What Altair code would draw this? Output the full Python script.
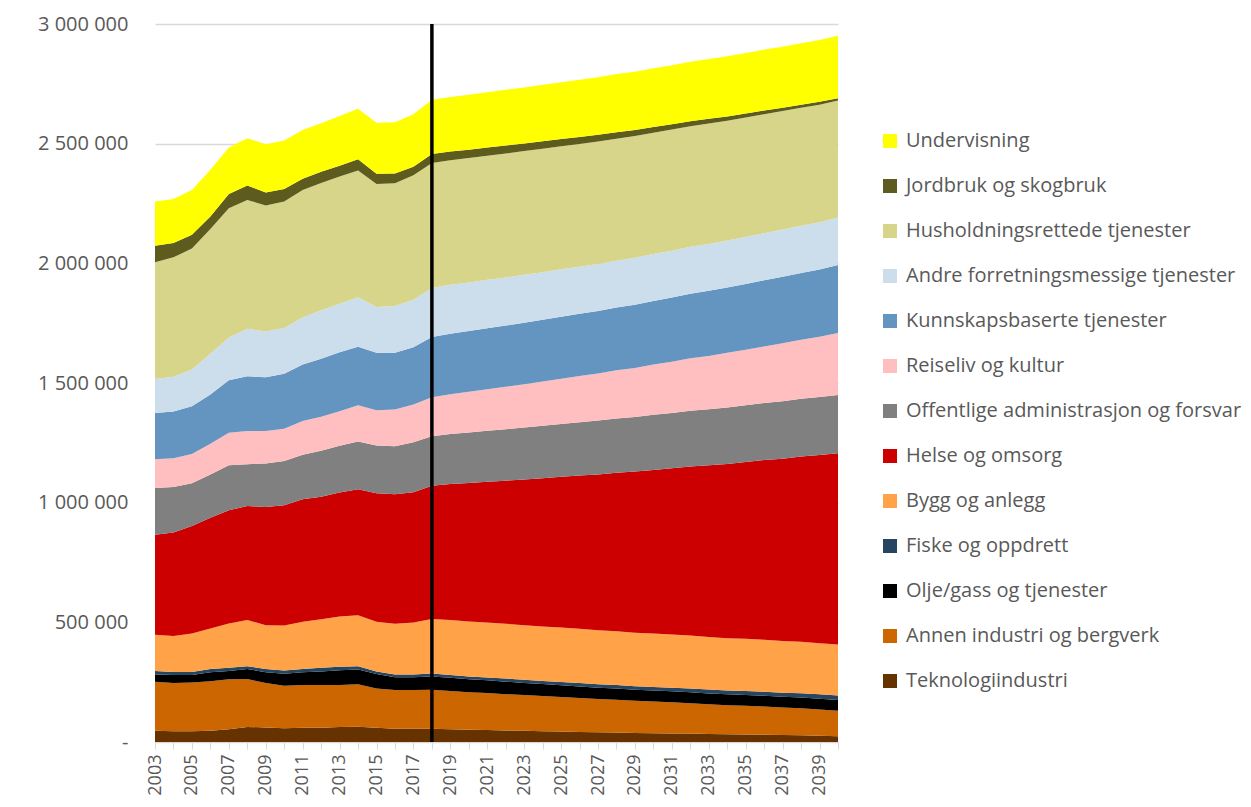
import altair as alt
import pandas as pd

years = list(range(2003, 2041))

# Legend order (top to bottom)
legend_order = [
    "Undervisning",
    "Jordbruk og skogbruk",
    "Husholdningsrettede tjenester",
    "Andre forretningsmessige tjenester",
    "Kunnskapsbaserte tjenester",
    "Reiseliv og kultur",
    "Offentlige administrasjon og forsvar",
    "Helse og omsorg",
    "Bygg og anlegg",
    "Fiske og oppdrett",
    "Olje/gass og tjenester",
    "Annen industri og bergverk",
    "Teknologiindustri",
]
colors = [
    "#FFFF00", "#5E5B1F", "#D7D58A", "#CCDDEB", "#6395C0", "#FFBFC0",
    "#808080", "#CC0000", "#FFA248", "#254561", "#000000", "#CC6600", "#663300",
]

# values in thousands of persons, 2003..2040
teknologi = [47, 45, 45, 47, 53, 63, 61, 57, 60, 60, 63, 64, 60, 55, 55,
             55, 53, 51, 50, 48, 47, 45, 44, 42, 41, 40, 38, 37, 36, 35, 33, 32, 31, 30, 29, 28, 26, 24]
annen_industri = [205, 202, 204, 207, 209, 200, 185, 178, 178, 178, 175, 177, 164, 162, 162,
                  163, 160, 157, 155, 152, 149, 147, 144, 142, 139, 137, 134, 132, 130, 127, 125, 122, 120, 118, 115, 113, 110, 107]
olje_gass = [30, 33, 31, 37, 35, 42, 45, 50, 53, 57, 62, 62, 60, 54, 54,
             56, 55, 54, 53, 52, 51, 50, 49, 48, 47, 47, 46, 46, 46, 46, 45, 45, 45, 45, 45, 45, 45, 45]
fiske = [15, 12, 12, 14, 13, 12, 14, 14, 14, 15, 14, 14, 11, 11, 11,
         12, 12, 12, 12, 13, 13, 13, 14, 14, 14, 14, 15, 15, 15, 16, 16, 16, 17, 17, 17, 18, 18, 18]
bygg = [151, 151, 161, 169, 185, 193, 183, 188, 197, 203, 210, 213, 207, 212, 217,
        228, 230, 230, 229, 229, 228, 228, 227, 227, 226, 225, 224, 223, 222, 221, 220, 219, 218, 217, 216, 215, 214, 213]
helse = [418, 432, 449, 463, 473, 476, 494, 502, 512, 512, 518, 526, 537, 541, 545,
         557, 568, 578, 588, 598, 609, 619, 630, 640, 651, 662, 673, 684, 695, 706, 717, 728, 739, 751, 762, 774, 786, 799]
offentlige = [195, 190, 179, 181, 188, 175, 182, 185, 186, 192, 196, 200, 200, 201, 208,
              207, 209, 211, 213, 215, 217, 219, 221, 223, 225, 227, 228, 230, 231, 233, 234, 236, 237, 238, 240, 241, 242, 244]
reiseliv = [120, 121, 122, 128, 136, 138, 135, 135, 141, 142, 144, 151, 147, 153, 158,
            162, 166, 170, 174, 177, 181, 185, 189, 193, 197, 201, 205, 210, 214, 219, 223, 228, 232, 237, 242, 247, 252, 259]
kunnskap = [194, 195, 200, 206, 219, 229, 225, 230, 236, 242, 246, 244, 240, 237, 239,
            252, 253, 254, 255, 256, 257, 258, 259, 260, 261, 262, 264, 266, 268, 270, 272, 273, 275, 276, 278, 279, 281, 284]
andre = [142, 145, 153, 170, 179, 199, 191, 191, 197, 203, 203, 207, 192, 196, 199,
         205, 204, 203, 202, 201, 200, 199, 198, 197, 196, 196, 196, 196, 196, 196, 196, 196, 196, 197, 197, 197, 198, 199]
husholdning = [488, 499, 506, 521, 540, 538, 527, 528, 532, 532, 532, 530, 514, 513, 520,
               522, 521, 520, 519, 518, 517, 516, 514, 513, 512, 510, 509, 507, 506, 504, 503, 501, 499, 497, 495, 493, 491, 488]
jordbruk = [68, 60, 57, 53, 60, 60, 54, 53, 47, 47, 45, 47, 42, 40, 36,
            38, 36, 35, 34, 33, 32, 31, 30, 29, 28, 27, 25, 24, 22, 21, 20, 18, 17, 16, 14, 13, 12, 10]
undervisning = [185, 184, 187, 195, 194, 198, 202, 202, 204, 202, 208, 211, 213, 215, 219,
                226, 228, 229, 231, 233, 234, 236, 238, 239, 241, 243, 244, 245, 247, 248, 250, 251, 253, 254, 255, 257, 258, 261]

marker_year = [2018]
y_ticks = [0, 500000, 1000000, 1500000, 2000000, 2500000, 3000000]

# bottom to top stacking
stack = [
    ("Teknologiindustri", teknologi),
    ("Annen industri og bergverk", annen_industri),
    ("Olje/gass og tjenester", olje_gass),
    ("Fiske og oppdrett", fiske),
    ("Bygg og anlegg", bygg),
    ("Helse og omsorg", helse),
    ("Offentlige administrasjon og forsvar", offentlige),
    ("Reiseliv og kultur", reiseliv),
    ("Kunnskapsbaserte tjenester", kunnskap),
    ("Andre forretningsmessige tjenester", andre),
    ("Husholdningsrettede tjenester", husholdning),
    ("Jordbruk og skogbruk", jordbruk),
    ("Undervisning", undervisning),
]

rows = []
for idx, (name, vals) in enumerate(stack):
    for yr, v in zip(years, vals):
        rows.append({"year": yr, "sector": name, "value": v * 1000, "ord": idx})
df = pd.DataFrame(rows)

W, H = 683, 718
FONT = "Open Sans"
LABEL_COLOR = "#595959"
GRID = "#D9D9D9"

ylabel_expr = (
    "datum.value == 0 ? '-' : "
    "datum.value == 500000 ? '500 000' : "
    "datum.value == 1000000 ? '1 000 000' : "
    "datum.value == 1500000 ? '1 500 000' : "
    "datum.value == 2000000 ? '2 000 000' : "
    "datum.value == 2500000 ? '2 500 000' : '3 000 000'"
)

x_scale = alt.Scale(domain=[2003, 2040], nice=False, zero=False)
x_axis = alt.Axis(
    values=years,
    labelExpr="datum.value % 2 == 1 ? '' + datum.value : ''",
    labelAngle=270,
    labelOverlap=False,
    labelFlush=False,
    labelBound=False,
    labelSeparation=0,
    labelFont=FONT,
    labelFontSize=18,
    labelColor=LABEL_COLOR,
    labelPadding=5,
    tickSize=7,
    tickColor=GRID,
    domainColor=GRID,
    grid=False,
)

areas = alt.Chart(df).mark_area(interpolate="linear", opacity=1).encode(
    x=alt.X("year:Q", title=None, scale=x_scale, axis=x_axis),
    y=alt.Y(
        "value:Q",
        stack="zero",
        title=None,
        scale=alt.Scale(domain=[0, 3000000], nice=False),
        axis=alt.Axis(
            values=y_ticks,
            labelExpr=ylabel_expr,
            labelFont=FONT,
            labelFontSize=20,
            labelColor=LABEL_COLOR,
            labelPadding=27,
            ticks=False,
            domain=False,
            grid=True,
            gridColor=GRID,
            gridWidth=1.3,
        ),
    ),
    color=alt.Color(
        "sector:N",
        sort=legend_order,
        scale=alt.Scale(domain=legend_order, range=colors),
        legend=alt.Legend(
            title=None,
            orient="none",
            legendX=725,
            legendY=107,
            symbolType="square",
            symbolSize=196,
            symbolStrokeWidth=0,
            symbolOpacity=1,
            labelFont=FONT,
            labelFontSize=20,
            labelColor=LABEL_COLOR,
            labelOffset=6,
            rowPadding=25,
            padding=0,
            labelLimit=400,
        ),
    ),
    order=alt.Order("ord:Q", sort="ascending"),
)

rule = alt.Chart(pd.DataFrame({"year": marker_year})).mark_rule(
    color="black", strokeWidth=3.5
).encode(
    x=alt.X("year:Q", title=None, scale=x_scale, axis=x_axis),
    y=alt.value(0),
    y2=alt.value(H),
)

chart = alt.layer(areas, rule).properties(
    width=W,
    height=H,
    padding={"left": 147, "top": 16, "right": 405, "bottom": 57},
    autosize=alt.AutoSizeParams(type="none"),
).configure_view(stroke=None)

chart.save("out.html", embed_options={"renderer": "svg", "actions": False})
